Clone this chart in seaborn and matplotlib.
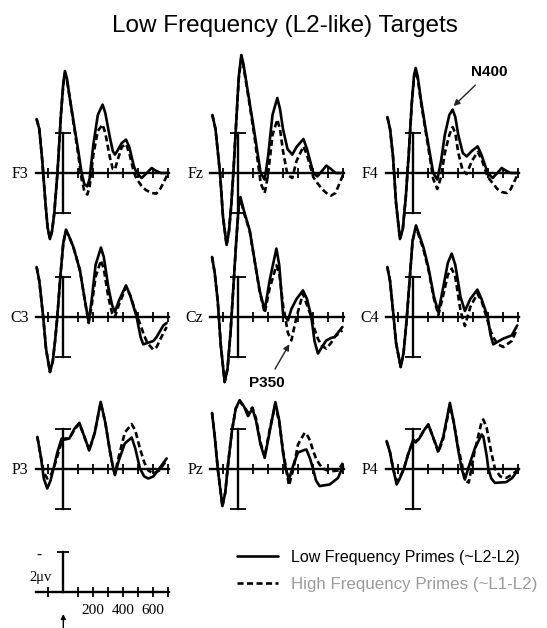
import matplotlib
matplotlib.use("Agg")
import matplotlib.pyplot as plt
from matplotlib.lines import Line2D
import seaborn as sns

# ---------------- data (time in ms, amplitude in microvolts; negative plotted up) ----------------
title = "Low Frequency (L2-like) Targets"
series_labels = ["Low Frequency Primes (~L2-L2)", "High Frequency Primes (~L1-L2)"]
electrodes = [["F3", "Fz", "F4"], ["C3", "Cz", "C4"], ["P3", "Pz", "P4"]]
tick_ms = [-100, 100, 200, 300, 400, 500, 600, 700]
cal_tick_labels = ["", "", "200", "", "400", "", "600", ""]
cal_uv = 2

t_F3 = [-178, -160, -140, -120, -105, -89, -75, -60, -39, -15, 0, 11, 25, 40, 70, 100, 122, 140, 160, 175,
        200, 230, 262, 280, 310, 330, 344, 360, 390, 418, 440, 470, 489, 522, 550, 589, 620, 650, 700]
F3_low = [-2.7, -2.2, -0.6, 1.4, 2.7, 3.3, 2.9, 2.0, 0.0, -3.0, -4.5, -5.1, -4.7, -3.9, -2.5, -1.1, 0.0, 0.55, 0.67, 0.3,
          -1.4, -2.9, -3.42, -3.0, -1.8, -1.1, -0.92, -1.1, -1.5, -1.67, -1.3, -0.35, 0.0, 0.25, 0.05, -0.25, -0.1, 0.0, 0.0]
F3_high = [-2.7, -2.2, -0.6, 1.4, 2.7, 3.3, 2.9, 2.0, 0.0, -3.0, -4.4, -4.95, -4.6, -3.9, -2.4, -0.9, 0.3, 0.9, 1.08, 0.7,
           -0.9, -2.1, -2.42, -2.0, -0.8, -0.2, -0.17, -0.6, -1.3, -1.45, -1.0, -0.05, 0.3, 0.65, 0.85, 1.0, 1.03, 0.75, 0.0]

t_Fz = [-171, -150, -135, -120, -100, -76, -60, -45, -31, -10, 5, 22, 35, 50, 80, 110, 151, 178, 200, 230,
        262, 280, 300, 330, 362, 390, 436, 460, 502, 529, 560, 589, 620, 650, 700]
Fz_low = [-2.9, -2.2, -1.1, 0.0, 2.2, 3.6, 2.9, 1.6, 0.0, -2.8, -4.8, -5.9, -5.5, -4.8, -3.4, -2.0, 0.0, 0.33, -0.8, -2.9,
          -3.75, -3.2, -2.2, -1.2, -0.92, -1.3, -1.7, -1.2, 0.0, 0.17, -0.1, -0.37, -0.2, 0.0, 0.0]
Fz_high = [-2.9, -2.2, -1.1, 0.0, 2.2, 3.6, 2.9, 1.6, 0.0, -2.8, -4.7, -5.75, -5.4, -4.7, -3.3, -1.8, 0.5, 1.0, 0.1, -1.9,
           -2.67, -2.2, -1.1, 0.1, 0.25, -0.6, -1.33, -0.9, 0.2, 0.5, 0.8, 1.0, 1.13, 1.0, 0.1]

t_F4 = [-173, -155, -135, -115, -89, -70, -50, -30, -10, 5, 16, 30, 50, 80, 110, 133, 160, 185, 210, 240,
        262, 280, 300, 330, 356, 390, 429, 455, 496, 529, 560, 589, 622, 650, 700]
F4_low = [-2.8, -2.2, -0.8, 1.5, 3.3, 2.8, 1.2, -1.0, -3.5, -4.9, -5.25, -4.8, -3.7, -2.3, -1.0, 0.0, 0.33, -0.6, -1.9, -2.9,
          -3.17, -2.8, -1.9, -1.0, -0.83, -1.1, -1.33, -0.9, 0.0, 0.25, 0.0, -0.25, -0.1, 0.0, 0.0]
F4_high = [-2.8, -2.2, -0.8, 1.5, 3.3, 2.8, 1.2, -1.0, -3.5, -4.8, -5.1, -4.7, -3.6, -2.2, -0.8, 0.3, 0.8, 0.2, -1.0, -1.9,
           -2.3, -2.0, -1.0, -0.1, 0.05, -0.6, -1.05, -0.7, 0.2, 0.5, 0.8, 0.95, 1.0, 0.8, 0.0]

t_C3 = [-178, -160, -134, -115, -89, -70, -55, -40, -20, 0, 18, 40, 67, 90, 111, 144, 169, 190, 215, 251,
        270, 300, 325, 344, 370, 418, 445, 489, 515, 533, 560, 600, 622, 667, 689]
C3_low = [-2.5, -1.8, 0.0, 1.6, 2.75, 2.2, 1.2, 0.0, -2.0, -3.7, -4.37, -4.0, -3.5, -2.9, -2.33, -0.83, 0.25, -0.9, -2.6, -3.47,
          -3.0, -1.5, -0.6, -0.25, -0.8, -1.58, -1.1, 0.0, 1.0, 1.37, 1.3, 1.2, 1.0, 0.42, 0.3]
C3_high = [-2.5, -1.8, 0.0, 1.6, 2.75, 2.2, 1.2, 0.0, -2.0, -3.7, -4.3, -4.0, -3.5, -2.9, -2.33, -0.8, 0.3, -0.6, -2.0, -2.83,
           -2.4, -1.0, -0.2, 0.0, -0.6, -1.5, -1.1, -0.1, 0.4, 0.8, 1.3, 1.63, 1.5, 0.8, 0.5]

t_Cz = [-173, -155, -135, -115, -89, -70, -50, -30, -10, 5, 16, 40, 78, 111, 144, 178, 210, 256, 275, 300,
        333, 356, 390, 433, 460, 489, 510, 533, 560, 589, 620, 644, 696]
Cz_low = [-3.0, -2.2, -0.8, 1.4, 3.25, 2.6, 0.8, -1.6, -4.0, -5.6, -6.0, -5.3, -4.33, -2.83, -1.33, -0.33, -1.8, -3.42, -2.6, -0.17,
          0.17, -0.4, -0.9, -1.33, -0.9, 0.0, 1.2, 1.83, 1.5, 1.17, 1.05, 1.0, 0.5]
Cz_high = [-3.0, -2.2, -0.8, 1.4, 3.25, 2.6, 0.8, -1.6, -4.0, -5.5, -5.9, -5.2, -4.3, -2.8, -1.3, -0.2, -1.4, -2.58, -2.2, -0.6,
           0.8, 1.17, 0.0, -1.17, -0.6, 0.0, 0.6, 1.1, 1.45, 1.58, 1.3, 1.0, 0.67]

t_C4 = [-173, -155, -135, -115, -84, -65, -45, -25, -5, 18, 40, 67, 100, 138, 167, 200, 230, 256, 280, 315,
        344, 380, 427, 455, 496, 515, 533, 560, 600, 656, 693]
C4_low = [-2.5, -1.8, -0.3, 1.3, 2.5, 1.8, 0.2, -1.8, -3.8, -4.58, -4.1, -3.5, -2.5, -1.0, -0.25, -1.5, -2.7, -3.17, -2.6, -1.0,
          -0.3, -0.9, -1.37, -0.9, 0.0, 0.9, 1.37, 1.25, 1.08, 0.92, 0.42]
C4_high = [-2.5, -1.8, -0.3, 1.3, 2.5, 1.8, 0.2, -1.8, -3.8, -4.5, -4.0, -3.4, -2.4, -0.9, -0.1, -1.1, -2.1, -2.42, -2.0, -0.3,
           0.45, -0.5, -1.17, -0.8, 0.2, 0.7, 1.0, 1.35, 1.5, 1.2, 0.58]

t_P3 = [-173, -150, -130, -107, -85, -65, -40, -11, 11, 40, 75, 107, 140, 173, 210, 249, 280, 310, 333, 344,
        370, 410, 456, 480, 511, 540, 567, 600, 640, 689]
P3_low = [-1.58, -0.6, 0.5, 1.0, 0.6, 0.0, -0.8, -1.5, -1.45, -1.5, -2.0, -2.28, -1.6, -0.92, -1.8, -3.33, -2.3, -0.9, 0.0, 0.33,
          -0.4, -1.25, -1.55, -1.0, 0.0, 0.4, 0.5, 0.4, 0.0, -0.5]
P3_high = [-1.58, -0.6, 0.2, 0.5, 0.35, 0.0, -0.6, -1.35, -1.5, -1.5, -1.95, -2.25, -1.6, -0.9, -1.8, -3.3, -2.3, -0.9, 0.0, 0.25,
           -0.6, -1.8, -2.22, -1.9, -1.0, -0.3, 0.1, 0.25, 0.1, -0.42]

t_Pz = [-173, -155, -135, -104, -85, -65, -40, -15, 11, 40, 67, 96, 120, 150, 178, 210, 249, 275, 300, 318,
        340, 370, 400, 444, 456, 480, 500, 520, 544, 567, 611, 667, 700]
Pz_low = [-2.78, -1.6, 0.0, 1.88, 1.2, -0.3, -1.9, -3.0, -3.42, -3.1, -2.62, -3.0, -2.4, -1.2, -0.53, -1.8, -3.32, -2.4, -0.8, 0.0,
          0.55, -0.2, -0.8, -0.93, -0.95, -0.5, 0.0, 0.6, 0.88, 0.85, 0.8, 0.47, -0.12]
Pz_high = [-2.78, -1.6, 0.0, 1.88, 1.2, -0.3, -1.9, -3.0, -3.35, -3.1, -2.8, -3.05, -2.5, -1.3, -0.6, -1.9, -3.2, -2.3, -0.9, -0.1,
           0.85, 0.0, -1.2, -1.78, -1.75, -1.4, -0.9, -0.5, -0.2, 0.0, 0.15, 0.1, -0.28]

t_P4 = [-178, -155, -135, -111, -90, -62, -35, 0, 15, 40, 70, 100, 130, 167, 200, 244, 270, 300, 322, 344,
        370, 410, 456, 467, 490, 500, 520, 544, 580, 620, 660, 700]
P4_low = [-1.37, -0.8, 0.0, 0.8, 0.5, 0.0, -0.7, -1.45, -1.3, -1.5, -1.9, -2.2, -1.6, -0.87, -1.6, -3.28, -2.3, -0.9, 0.0, 0.55,
          -0.1, -1.0, -1.7, -1.6, -0.6, 0.0, 0.5, 0.72, 0.7, 0.68, 0.47, 0.05]
P4_high = [-1.37, -0.8, 0.0, 0.63, 0.45, 0.0, -0.7, -1.4, -1.35, -1.5, -1.9, -2.2, -1.6, -0.8, -1.5, -3.15, -2.3, -1.0, -0.3, 0.6,
           0.7, -0.9, -2.35, -2.45, -2.0, -1.6, -0.8, 0.0, 0.4, 0.47, 0.3, 0.05]

panel_data = {
    "F3": (t_F3, F3_low, F3_high), "Fz": (t_Fz, Fz_low, Fz_high), "F4": (t_F4, F4_low, F4_high),
    "C3": (t_C3, C3_low, C3_high), "Cz": (t_Cz, Cz_low, Cz_high), "C4": (t_C4, C4_low, C4_high),
    "P3": (t_P3, P3_low, P3_high), "Pz": (t_Pz, Pz_low, Pz_high), "P4": (t_P4, P4_low, P4_high),
}

# ---------------- layout / style ----------------
sns.set_style("white")
plt.rcParams["font.family"] = ["Liberation Sans", "DejaVu Sans"]
plt.rcParams["text.color"] = "black"
plt.rcParams["xtick.color"] = "black"
plt.rcParams["ytick.color"] = "black"
plt.rcParams["xtick.labelcolor"] = "black"
SERIF = ["Liberation Serif", "DejaVu Serif"]

W, H = 547, 628
fig = plt.figure(figsize=(W / 100, H / 100), dpi=100)
fig.patch.set_facecolor("white")

col_x0 = [63.3, 238.0, 413.3]      # pixel x of time zero per column
row_base = [173.0, 317.0, 468.5]   # pixel y of baseline per row
PX_MS, PX_UV = 0.15, 20.0
XL = (-300, 800)
YL = (5, -7)   # inverted: negative up
LW = 1.9
DASH = (0, (2.3, 1.3))


def make_ax(x0, base):
    left = x0 + XL[0] * PX_MS
    width = (XL[1] - XL[0]) * PX_MS
    top = base + YL[1] * PX_UV
    height = (YL[0] - YL[1]) * PX_UV
    ax = fig.add_axes([left / W, 1 - (top + height) / H, width / W, height / H])
    ax.set_xlim(*XL)
    ax.set_ylim(*YL)
    ax.patch.set_alpha(0)
    for s in ("top", "right"):
        ax.spines[s].set_visible(False)
    ax.spines["left"].set_position(("data", 0))
    ax.spines["bottom"].set_position(("data", 0))
    for s in ("left", "bottom"):
        ax.spines[s].set_linewidth(1.7)
        ax.spines[s].set_color("black")
    ax.spines["bottom"].set_bounds(-185, 705)
    ax.set_xticks(tick_ms)
    ax.tick_params(axis="x", bottom=True, direction="inout", length=7, width=1.3,
                   color="black", labelbottom=False)
    return ax


for r, row in enumerate(electrodes):
    for c, name in enumerate(row):
        ax = make_ax(col_x0[c], row_base[r])
        ax.spines["left"].set_bounds(-2, 2)
        ax.set_yticks([-2, 2])
        ax.tick_params(axis="y", left=True, direction="inout", length=11, width=1.3,
                       color="black", labelleft=False)
        t, low, high = panel_data[name]
        sns.lineplot(x=t, y=high, ax=ax, color="black", lw=LW, linestyle=DASH, sort=False,
                     dash_joinstyle="round", dash_capstyle="butt")
        sns.lineplot(x=t, y=low, ax=ax, color="black", lw=LW, sort=False,
                     solid_joinstyle="round", solid_capstyle="round")
        ax.set_xlabel("")
        ax.set_ylabel("")
        ax.annotate(name, xy=(-185, 0), xytext=(-5, -3.8), textcoords="offset points",
                    ha="right", va="baseline", family=SERIF, fontsize=11.5)
        if name == "F4":
            ax.annotate("N400", xy=(262, -3.3), xytext=(505, -5.05), ha="center", va="center",
                        fontsize=11, fontweight="bold",
                        arrowprops=dict(arrowstyle="-|>", color="#222222", lw=1.0,
                                        mutation_scale=9, shrinkA=3, shrinkB=1))
        if name == "Cz":
            ax.annotate("P350", xy=(347, 1.3), xytext=(193, 3.3), ha="center", va="center",
                        fontsize=11, fontweight="bold",
                        arrowprops=dict(arrowstyle="-|>", color="#222222", lw=1.0,
                                        mutation_scale=9, shrinkA=3, shrinkB=1))

# calibration axes
cal = make_ax(63.3, 592.0)
cal.spines["left"].set_bounds(-cal_uv, 0)
cal.set_yticks([-cal_uv])
cal.tick_params(axis="y", left=True, direction="inout", length=9, width=1.3,
                color="black", labelleft=False)
cal.set_xticklabels(cal_tick_labels)
cal.tick_params(axis="x", labelbottom=True, pad=5.0, labelsize=11, labelcolor="black")
for lab in cal.get_xticklabels():
    lab.set_family(SERIF)
cal.text(-162, -1.85, "-", family=SERIF, fontsize=11, ha="center", va="center")
cal.text(-150, -0.72, "2\u03bcv", family=SERIF, fontsize=10.5, ha="center", va="center")
cal.annotate("", xy=(0, 1.1), xytext=(0, 1.85),
             arrowprops=dict(arrowstyle="-|>", color="black", lw=1.0, mutation_scale=7,
                             shrinkA=0, shrinkB=0))

# title
fig.text(285 / W, 1 - 32 / H, title, ha="center", va="baseline", fontsize=17.5, color="black")

# legend
handles = [Line2D([], [], color="black", lw=LW), Line2D([], [], color="black", lw=LW, linestyle=DASH)]
leg = fig.legend(handles, series_labels, loc="upper left", bbox_to_anchor=(237 / W, 1 - 550 / H),
                 frameon=False, fontsize=11.5, handlelength=2.55, handletextpad=0.85,
                 labelspacing=0.72, borderpad=0, borderaxespad=0)
txts = leg.get_texts()
txts[0].set_color("black")
txts[1].set_color("#9a9a9a")
txts[1].set_fontsize(12.2)

fig.savefig("out.png", dpi=100, facecolor="white")
